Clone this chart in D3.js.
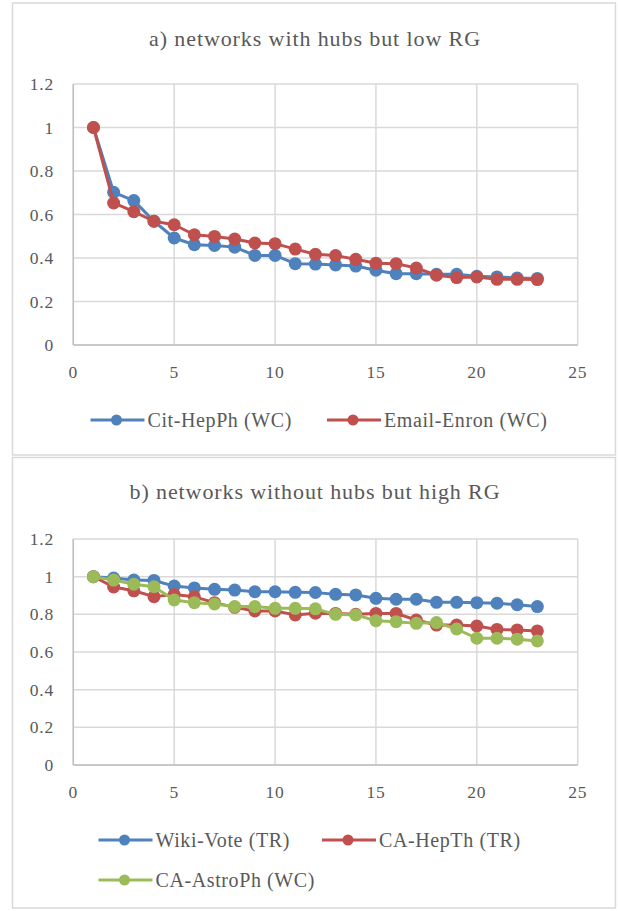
<!DOCTYPE html>
<html>
<head>
<meta charset="utf-8">
<script src="https://cdn.jsdelivr.net/npm/d3@7"></script>
<style>
  html, body { margin: 0; padding: 0; background: #fff; }
  svg { display: block; }
  text { font-family: "Liberation Serif", "Times New Roman", serif; fill: #595959; }
</style>
</head>
<body>
<svg id="chart" width="618" height="911"></svg>
<script>
// ---- data ----
const steps = [1,2,3,4,5,6,7,8,9,10,11,12,13,14,15,16,17,18,19,20,21,22,23];
const xTicks = [0,5,10,15,20,25];
const yTicks = [0,0.2,0.4,0.6,0.8,1,1.2];
const yTickLabels = ["0","0.2","0.4","0.6","0.8","1","1.2"];

const titleA = "a) networks with hubs but low RG";
const titleB = "b) networks without hubs but high RG";

const citHepPh   = [1.0,0.702,0.664,0.569,0.492,0.461,0.458,0.450,0.412,0.412,0.374,0.372,0.368,0.363,0.344,0.328,0.328,0.325,0.325,0.316,0.313,0.308,0.306];
const emailEnron = [1.0,0.653,0.613,0.569,0.553,0.507,0.499,0.487,0.469,0.466,0.441,0.417,0.411,0.394,0.376,0.374,0.354,0.321,0.310,0.313,0.302,0.302,0.301];

const wikiVote   = [1.0,0.993,0.982,0.980,0.950,0.940,0.933,0.929,0.920,0.920,0.917,0.916,0.906,0.903,0.885,0.880,0.880,0.864,0.864,0.862,0.859,0.851,0.841];
const caHepTh    = [1.0,0.945,0.925,0.894,0.905,0.893,0.862,0.837,0.818,0.818,0.797,0.806,0.805,0.800,0.805,0.805,0.770,0.743,0.743,0.738,0.720,0.717,0.712];
const caAstroPh  = [1.0,0.982,0.960,0.947,0.876,0.862,0.855,0.841,0.841,0.832,0.832,0.829,0.800,0.797,0.766,0.761,0.752,0.756,0.722,0.673,0.673,0.668,0.659];

const namesA = ["Cit-HepPh (WC)","Email-Enron (WC)"];
const namesB = ["Wiki-Vote (TR)","CA-HepTh (TR)","CA-AstroPh (WC)"];
const colors = ["#4f81bd","#c0504d","#9bbb59"];

// ---- drawing ----
const svg = d3.select("#chart");

function panel(cfg) {
  const g = svg.append("g");
  g.append("rect")
    .attr("x", cfg.box[0]).attr("y", cfg.box[1])
    .attr("width", cfg.box[2]).attr("height", cfg.box[3])
    .attr("fill", "#fff").attr("stroke", "#d9d9d9").attr("stroke-width", 1.5);

  g.append("text")
    .attr("x", 315).attr("y", cfg.titleY)
    .attr("text-anchor", "middle")
    .style("font-size", "22px").style("letter-spacing", "0.9px")
    .text(cfg.title);

  const x = d3.scaleLinear().domain([0,25]).range([73.3, 577.7]);
  const y = d3.scaleLinear().domain([0,1.2]).range([cfg.plot[1], cfg.plot[0]]);

  const grid = g.append("g");
  grid.selectAll("line.h").data(yTicks).join("line")
    .attr("x1", x(0)).attr("x2", x(25))
    .attr("y1", d => y(d)).attr("y2", d => y(d))
    .attr("stroke", "#d9d9d9").attr("stroke-width", 1.5);
  grid.selectAll("line.v").data(xTicks).join("line")
    .attr("y1", y(0)).attr("y2", y(1.2))
    .attr("x1", d => x(d)).attr("x2", d => x(d))
    .attr("stroke", "#d9d9d9").attr("stroke-width", 1.5);
  g.append("line").attr("x1", x(0)).attr("x2", x(25)).attr("y1", y(0)).attr("y2", y(0))
    .attr("stroke", "#bfbfbf").attr("stroke-width", 1.5);
  g.append("line").attr("x1", x(0)).attr("x2", x(0)).attr("y1", y(0)).attr("y2", y(1.2))
    .attr("stroke", "#bfbfbf").attr("stroke-width", 1.5);

  g.selectAll("text.yt").data(yTicks).join("text")
    .attr("x", 54).attr("y", d => y(d))
    .attr("dy", "0.35em").attr("text-anchor", "end")
    .style("font-size", "17.5px").style("letter-spacing", "0.8px")
    .text((d, i) => yTickLabels[i]);
  g.selectAll("text.xt").data(xTicks).join("text")
    .attr("x", d => x(d)).attr("y", y(0) + 27)
    .attr("dy", "0.35em").attr("text-anchor", "middle")
    .style("font-size", "17.5px").style("letter-spacing", "0.8px")
    .text(d => d);

  const line = d3.line().x((d, i) => x(steps[i])).y(d => y(d));
  cfg.series.forEach((s, k) => {
    const sg = g.append("g");
    sg.append("path").datum(s).attr("d", line)
      .attr("fill", "none").attr("stroke", colors[k]).attr("stroke-width", 3)
      .attr("stroke-linejoin", "round");
    sg.selectAll("circle").data(s).join("circle")
      .attr("cx", (d, i) => x(steps[i])).attr("cy", d => y(d))
      .attr("r", 6.5).attr("fill", colors[k]);
  });

  cfg.legend.forEach((L, k) => {
    const lg = g.append("g");
    lg.append("line").attr("x1", L[0]).attr("x2", L[0] + 54).attr("y1", L[1]).attr("y2", L[1])
      .attr("stroke", colors[k]).attr("stroke-width", 3);
    lg.append("circle").attr("cx", L[0] + 26).attr("cy", L[1]).attr("r", 5.5).attr("fill", colors[k]);
    lg.append("text").attr("x", L[0] + 57).attr("y", L[1]).attr("dy", "0.35em")
      .style("font-size", "20px").style("letter-spacing", "0.6px")
      .text(cfg.names[k]);
  });
}

panel({
  box: [12.5, 3, 603, 452],
  title: titleA, titleY: 46,
  plot: [84, 345],
  series: [citHepPh, emailEnron],
  names: namesA,
  legend: [[90.5, 420], [327, 420]]
});

panel({
  box: [12.5, 457.5, 603, 450.5],
  title: titleB, titleY: 499,
  plot: [539, 765],
  series: [wikiVote, caHepTh, caAstroPh],
  names: namesB,
  legend: [[98.5, 840], [322, 840], [98.5, 880]]
});
</script>
</body>
</html>
